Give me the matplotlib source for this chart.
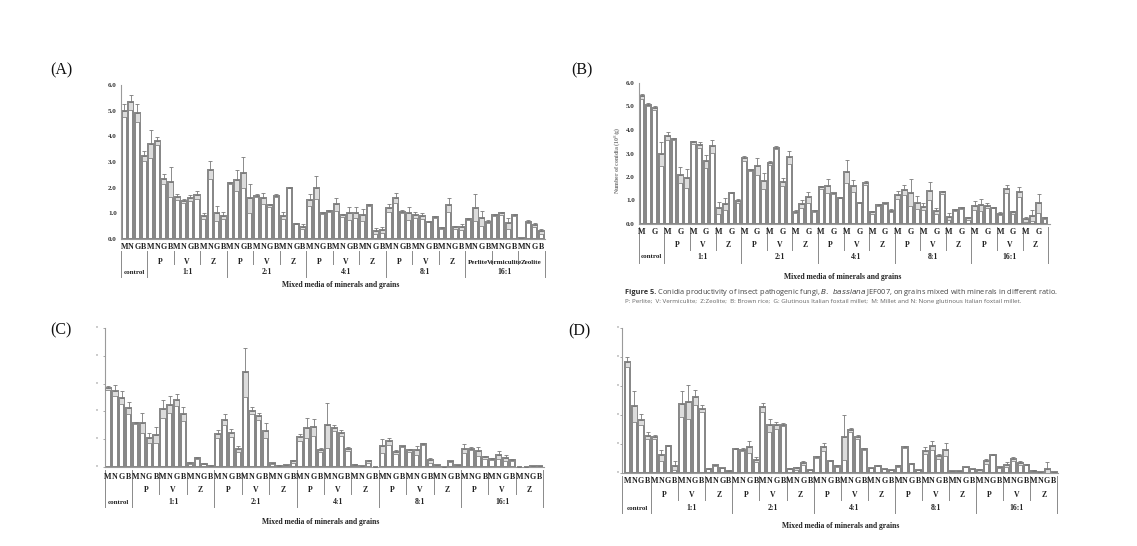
import matplotlib
matplotlib.use("Agg")
import matplotlib.pyplot as plt
from matplotlib.transforms import blended_transform_factory
import numpy as np

W, H = 1137, 546

# ---------------- data ----------------
ratios = ["control", "1:1", "2:1", "4:1", "8:1", "16:1"]
minerals = ["P", "V", "Z"]
minerals_long = ["Perlite", "Vermiculite", "Zeolite"]
grains = ["M", "N", "G", "B"]

A_mean = [5.0, 5.32, 4.9, 3.23,
          3.7, 3.83, 2.34, 2.23, 1.65, 1.48, 1.6, 1.71, 0.91, 2.69, 1.0, 0.91,
          2.2, 2.28, 2.58, 1.58, 1.69, 1.58, 1.32, 1.69, 0.91, 2.0, 0.6, 0.48,
          1.52, 2.0, 1.03, 1.1, 1.36, 0.92, 1.0, 1.03, 0.93, 1.32, 0.3, 0.35,
          1.2, 1.6, 1.07, 1.0, 0.93, 0.91, 0.68, 0.85, 0.42, 1.32, 0.45, 0.48,
          0.78, 1.22, 0.8, 0.68, 0.93, 1.0, 0.61, 0.93, 0.02, 0.68, 0.55, 0.3]
A_err = [0.25, 0.3, 0.35, 0.2,
         0.55, 0.15, 0.18, 0.58, 0.12, 0.08, 0.1, 0.16, 0.12, 0.35, 0.3, 0.15,
         0.04, 0.42, 0.6, 0.58, 0.05, 0.2, 0.06, 0.05, 0.15, 0.03, 0.03, 0.1,
         0.25, 0.45, 0.04, 0.03, 0.25, 0.05, 0.25, 0.22, 0.22, 0.03, 0.12, 0.1,
         0.15, 0.2, 0.06, 0.25, 0.12, 0.12, 0.03, 0.05, 0.04, 0.28, 0.06, 0.12,
         0.05, 0.53, 0.3, 0.07, 0.03, 0.07, 0.22, 0.04, 0.0, 0.07, 0.07, 0.1]

B_mean = [5.43, 5.08, 4.94, 2.97,
          3.75, 3.6, 2.09, 1.95, 3.47, 3.36, 2.66, 3.3, 0.67, 0.85, 1.34, 0.98,
          2.8, 2.3, 2.45, 1.85, 2.6, 3.25, 1.78, 2.84, 0.53, 0.84, 1.14, 0.55,
          1.56, 1.6, 1.3, 1.12, 2.23, 1.62, 0.91, 1.74, 0.5, 0.81, 0.88, 0.57,
          1.24, 1.45, 1.34, 0.91, 0.74, 1.41, 0.57, 1.35, 0.31, 0.6, 0.67, 0.24,
          0.77, 0.81, 0.77, 0.7, 0.43, 1.49, 0.5, 1.38, 0.2, 0.36, 0.88, 0.27]
B_err = [0.1, 0.05, 0.1, 0.5,
         0.17, 0.04, 0.35, 0.4, 0.08, 0.12, 0.28, 0.26, 0.25, 0.27, 0.04, 0.08,
         0.1, 0.04, 0.35, 0.34, 0.1, 0.07, 0.18, 0.27, 0.05, 0.18, 0.24, 0.04,
         0.07, 0.3, 0.03, 0.03, 0.5, 0.26, 0.02, 0.07, 0.06, 0.04, 0.03, 0.06,
         0.17, 0.21, 0.57, 0.28, 0.14, 0.37, 0.13, 0.07, 0.14, 0.04, 0.04, 0.07,
         0.19, 0.24, 0.11, 0.04, 0.06, 0.17, 0.07, 0.21, 0.11, 0.24, 0.4, 0.04]

C_mean = [2.84, 2.75, 2.5, 2.12,
          1.58, 1.58, 1.04, 1.16, 2.1, 2.24, 2.4, 1.9, 0.14, 0.32, 0.11, 0.05,
          1.2, 1.7, 1.22, 0.65, 3.4, 2.03, 1.82, 1.31, 0.13, 0.05, 0.06, 0.2,
          1.07, 1.4, 1.43, 0.62, 1.5, 1.4, 1.22, 0.65, 0.08, 0.02, 0.2, 0.01,
          0.74, 0.92, 0.54, 0.74, 0.6, 0.6, 0.83, 0.24, 0.06, 0.01, 0.2, 0.07,
          0.65, 0.66, 0.56, 0.35, 0.29, 0.42, 0.32, 0.26, 0.01, 0.01, 0.02, 0.02]
C_err = [0.08, 0.2, 0.25, 0.22,
         0.03, 0.36, 0.18, 0.28, 0.32, 0.3, 0.22, 0.25, 0.03, 0.03, 0.02, 0.01,
         0.14, 0.2, 0.14, 0.1, 0.88, 0.13, 0.12, 0.28, 0.02, 0.01, 0.01, 0.04,
         0.13, 0.36, 0.3, 0.08, 0.8, 0.12, 0.1, 0.07, 0.02, 0.01, 0.04, 0.0,
         0.25, 0.12, 0.08, 0.03, 0.05, 0.17, 0.03, 0.1, 0.02, 0.0, 0.03, 0.01,
         0.16, 0.05, 0.16, 0.06, 0.03, 0.14, 0.12, 0.04, 0.0, 0.0, 0.0, 0.0]

D_mean = [3.82, 2.3, 1.84, 1.29,
          1.23, 0.61, 0.94, 0.25, 2.38, 2.44, 2.61, 2.22, 0.15, 0.26, 0.17, 0.08,
          0.84, 0.8, 0.9, 0.46, 2.26, 1.64, 1.64, 1.67, 0.15, 0.17, 0.34, 0.11,
          0.54, 0.9, 0.43, 0.23, 1.23, 1.49, 1.24, 0.83, 0.17, 0.25, 0.14, 0.11,
          0.25, 0.89, 0.32, 0.11, 0.77, 0.94, 0.57, 0.8, 0.06, 0.08, 0.21, 0.14,
          0.09, 0.4, 0.63, 0.2, 0.29, 0.48, 0.34, 0.29, 0.08, 0.03, 0.15, 0.02]
D_err = [0.18, 0.54, 0.2, 0.12,
         0.07, 0.2, 0.02, 0.15, 0.46, 0.58, 0.26, 0.13, 0.02, 0.02, 0.01, 0.01,
         0.02, 0.05, 0.2, 0.08, 0.17, 0.22, 0.11, 0.05, 0.02, 0.05, 0.06, 0.01,
         0.03, 0.14, 0.03, 0.03, 0.78, 0.06, 0.06, 0.03, 0.01, 0.01, 0.01, 0.01,
         0.03, 0.03, 0.02, 0.01, 0.11, 0.15, 0.08, 0.23, 0.0, 0.0, 0.01, 0.01,
         0.04, 0.08, 0.02, 0.02, 0.08, 0.07, 0.06, 0.03, 0.01, 0.0, 0.22, 0.0]

AB_ticks = [0, 1, 2, 3, 4, 5, 6]
AB_ticklabels = ["0.0", "1.0", "2.0", "3.0", "4.0", "5.0", "6.0"]
CD_ticks = [0, 1, 2, 3, 4, 5]
xlabel_text = "Mixed media of minerals and grains"
caption1_bold = "Figure 5."
caption1_rest = (" Conidia productivity of insect pathogenic fungi, $\\it{B.\\ bassiana}$ JEF007,"
                 " on grains mixed with minerals in different ratio.")
caption2 = ("P: Perlite;  V: Vermiculite;  Z:Zeolite;  B: Brown rice;  G: Glutinous Italian foxtail millet;"
            "  M: Millet and N: None glutinous Italian foxtail millet.")

SERIF = "Liberation Serif"
fig = plt.figure(figsize=(W / 100, H / 100), dpi=100)
fig.patch.set_facecolor("white")

EDGE = "#858585"


def panel(left, right, top, bottom, xl, means, errs, ylim, ticks, ticklabels,
          rows, lines, grain_mode, xlabel_pos, long_last=False, tick_remnant=None):
    ax = fig.add_axes([left / W, 1 - bottom / H, (right - left) / W, (bottom - top) / H])
    means = np.asarray(means)
    errs = np.asarray(errs)
    x = np.arange(len(means))
    ax.bar(x, means, width=0.76, color="white", edgecolor=EDGE, linewidth=1.4, zorder=2)
    ax.bar(x, np.minimum(errs, means), bottom=means - np.minimum(errs, means), width=0.76,
           color="#dcdcdc", edgecolor=EDGE, linewidth=0.6, zorder=3)
    ax.errorbar(x, means, yerr=[np.zeros_like(errs), errs], fmt="none", ecolor="#7a7a7a",
                elinewidth=0.6, capsize=1.2, capthick=0.6, zorder=4)
    ax.set_xlim(*xl)
    ax.set_ylim(*ylim)
    for s in ["top", "right"]:
        ax.spines[s].set_visible(False)
    for s in ["left", "bottom"]:
        ax.spines[s].set_color("#9a9a9a")
        ax.spines[s].set_linewidth(0.8)
    ax.set_xticks([])
    ax.set_yticks(ticks)
    if ticklabels is not None:
        ax.set_yticklabels(ticklabels, fontsize=5, fontweight="bold", family=SERIF, color="#333")
        ax.tick_params(axis="y", length=0, pad=3)
    else:
        ax.set_yticklabels([])
        ax.tick_params(axis="y", length=1.5, color="#9a9a9a", width=0.6)
    ax.patch.set_alpha(0)

    tr = blended_transform_factory(ax.transData, fig.transFigure)
    fy = lambda ypx: 1 - ypx / H
    g_y, m_y, r_y = rows
    kw = dict(transform=tr, ha="center", va="center", family=SERIF, fontweight="bold",
              color="#222", clip_on=False)
    # grain labels
    for i in range(len(means)):
        g = grains[i % 4]
        if grain_mode == "MG" and g not in ("M", "G"):
            continue
        ax.text(i, fy(g_y), g, fontsize=5.8, **kw)
    # mineral and ratio labels
    for ri, r in enumerate(ratios):
        if r == "control":
            ax.text(1.5, fy(r_y), r, fontsize=5.0, **kw)
            continue
        start = 4 + (ri - 1) * 12
        for mi, m in enumerate(minerals):
            c = start + mi * 4 + 1.5
            if long_last and r == "16:1":
                ax.text(c, fy(m_y), minerals_long[mi], fontsize=5.0, **kw)
            else:
                ax.text(c, fy(m_y), m, fontsize=5.6, **kw)
        ax.text(start + 5.5, fy(r_y), r, fontsize=5.6, **kw)
    # separator lines
    (maj0, maj1), (min0, min1) = lines
    lk = dict(transform=tr, color="#8a8a8a", lw=0.7, clip_on=False)
    for b in [-0.5, 3.5, 15.5, 27.5, 39.5, 51.5, 63.5]:
        xx = xl[0] if b == -0.5 else b
        ax.plot([xx, xx], [fy(maj0), fy(maj1)], **lk)
    for ri in range(1, 6):
        start = 4 + (ri - 1) * 12
        for k in (1, 2):
            b = start + 4 * k - 0.5
            ax.plot([b, b], [fy(min0), fy(min1)], **lk)
    # x-axis title
    xc, yc = xlabel_pos
    fig.text(xc / W, fy(yc), xlabel_text, ha="center", va="center", family=SERIF,
             fontweight="bold", fontsize=5.5, color="#222")
    if tick_remnant is not None:
        for t in ticks:
            y = ax.transData.transform((0, t))[1] / H
            fig.text(tick_remnant / W, y, "'", ha="center", va="center", fontsize=5,
                     color="#777", fontweight="bold")
    return ax


# Panel A
panel(121, 545, 85, 239, (-0.48, 63.56), A_mean, A_err, (0, 6), AB_ticks, AB_ticklabels,
      rows=(247, 262, 272), lines=((251, 277), (251, 264)), grain_mode="MNGB",
      xlabel_pos=(341, 285), long_last=True)
# Panel B
axB = panel(639, 1050, 83, 224, (-0.47, 63.78), B_mean, B_err, (0, 6), AB_ticks, AB_ticklabels,
            rows=(232, 245, 257), lines=((227, 263), (227, 250)), grain_mode="MG",
            xlabel_pos=(843, 277))
# Panel C
panel(105, 544, 328, 467, (-0.45, 63.6), C_mean, C_err, (0, 5), CD_ticks, None,
      rows=(477, 490, 502), lines=((470, 507), (472, 494)), grain_mode="MNGB",
      xlabel_pos=(321, 522), tick_remnant=96)
# Panel D
panel(622, 1058, 328, 473, (-0.81, 63.6), D_mean, D_err, (0, 5), CD_ticks, None,
      rows=(481, 495, 508), lines=((476, 513), (476, 500)), grain_mode="MNGB",
      xlabel_pos=(841, 526), tick_remnant=617)

# y label of B (faint)
fig.text(617 / W, 1 - 160 / H, "Number of conidia (10$^8$/g)", rotation=90, ha="center",
         va="center", fontsize=4.2, color="#777", family=SERIF, fontweight="bold")

# caption of B
t1 = fig.text(625 / W, 1 - 293 / H, caption1_bold, ha="left", va="center", fontsize=5.3,
              fontweight="bold", color="#333", family="Open Sans")
fig.canvas.draw()
bb = t1.get_window_extent()
fig.text((bb.x1) / W, 1 - 293 / H, caption1_rest, ha="left", va="center", fontsize=5.3,
         color="#444", family="Open Sans")
fig.text(625 / W, 1 - 301 / H, caption2, ha="left", va="center", fontsize=4.5,
         color="#666", family="Open Sans")

# panel letters
for lab, xc, yc in [("(A)", 61, 70), ("(B)", 582, 70), ("(C)", 61, 330), ("(D)", 579, 331)]:
    fig.text(xc / W, 1 - yc / H, lab, ha="center", va="center", fontsize=11.5,
             family=SERIF, color="#111")

fig.savefig("out.png", dpi=100, facecolor="white")
